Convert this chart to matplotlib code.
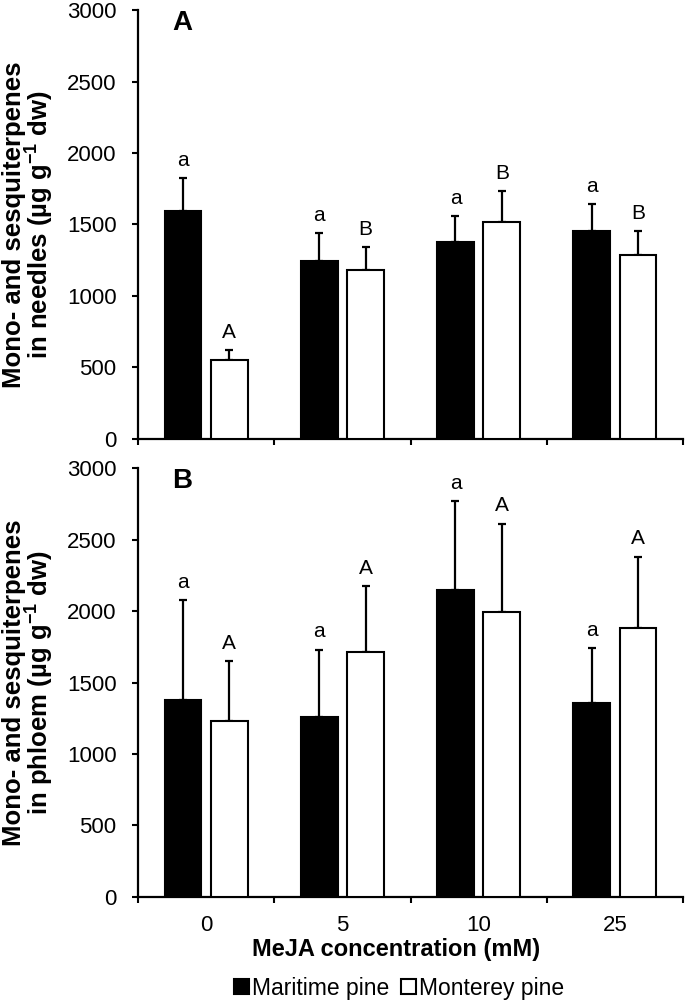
import matplotlib
matplotlib.use("Agg")
import matplotlib.pyplot as plt
import numpy as np
from matplotlib.patches import Patch

plt.rcParams['font.family'] = ['Liberation Sans', 'DejaVu Sans']
plt.rcParams['mathtext.fontset'] = 'custom'
plt.rcParams['mathtext.rm'] = 'Liberation Sans:bold'
plt.rcParams['mathtext.it'] = 'Liberation Sans:bold'
plt.rcParams['mathtext.bf'] = 'Liberation Sans:bold'

# ---- data ----
categories = ['0', '5', '10', '25']
series_names = ['Maritime pine', 'Monterey pine']

needles_maritime = [1595, 1243, 1380, 1455]
needles_maritime_se = [230, 195, 179, 187]
needles_monterey = [552, 1182, 1515, 1288]
needles_monterey_se = [70, 160, 218, 167]
needles_maritime_letters = ['a', 'a', 'a', 'a']
needles_monterey_letters = ['A', 'B', 'B', 'B']

phloem_maritime = [1375, 1260, 2150, 1355]
phloem_maritime_se = [700, 470, 620, 385]
phloem_monterey = [1230, 1715, 1995, 1880]
phloem_monterey_se = [420, 460, 615, 500]
phloem_maritime_letters = ['a', 'a', 'a', 'a']
phloem_monterey_letters = ['A', 'A', 'A', 'A']

yticks = [0, 500, 1000, 1500, 2000, 2500, 3000]

fig = plt.figure(figsize=(6.85, 10.02), dpi=100)
ax1 = fig.add_axes([0.2015, 0.5619, 0.7956, 0.4281])
ax2 = fig.add_axes([0.2015, 0.1048, 0.7956, 0.4281])

x = np.arange(len(categories))
w = 0.27
off = 0.17
FS = 16

def draw(ax, m, mse, w_, wse, mlet, wlet, panel, ylabel, show_xlabels):
    ax.bar(x - off, m, w, color='black', edgecolor='black', linewidth=1.5, zorder=3)
    ax.bar(x + off, w_, w, color='white', edgecolor='black', linewidth=1.5, zorder=3)
    for xs, vals, se, lets in [(x - off, m, mse, mlet), (x + off, w_, wse, wlet)]:
        ax.errorbar(xs, vals, yerr=[np.zeros(len(vals)), se], fmt='none',
                    ecolor='black', elinewidth=1.6, capsize=3, capthick=1.6, zorder=2)
        for xi, v, s, l in zip(xs, vals, se, lets):
            ax.annotate(l, (xi, v + s), xytext=(0, 6), textcoords='offset points',
                        ha='center', va='bottom', fontsize=15)
    ax.set_xlim(-0.5, 3.5)
    ax.set_ylim(0, 3000)
    ax.set_yticks(yticks)
    ax.set_yticklabels([str(t) for t in yticks], fontsize=FS)
    ax.tick_params(axis='y', direction='out', length=4.5, width=1.5, pad=11)
    ax.set_xticks(x)
    ax.set_xticks(np.arange(-0.5, 3.6, 1.0), minor=True)
    ax.tick_params(axis='x', which='major', length=0, pad=13)
    ax.tick_params(axis='x', which='minor', direction='out', length=4.5, width=1.5)
    if show_xlabels:
        ax.set_xticklabels(categories, fontsize=FS)
    else:
        ax.set_xticklabels([])
    for s in ['top', 'right']:
        ax.spines[s].set_visible(False)
    for s in ['left', 'bottom']:
        ax.spines[s].set_linewidth(1.6)
    ax.text(0.062, 1.0, panel, transform=ax.transAxes, ha='left', va='top',
            fontsize=20, fontweight='bold')
    pos = ax.get_position()
    fig.text(29 / 685, pos.y0 + pos.height / 2, ylabel, rotation=90, ha='center',
             va='center', multialignment='center', fontsize=18.5, fontweight='bold',
             linespacing=0.88)

draw(ax1, needles_maritime, needles_maritime_se, needles_monterey, needles_monterey_se,
     needles_maritime_letters, needles_monterey_letters, 'A',
     'Mono- and sesquiterpenes\nin needles (µg g$^{-1}$ dw)', False)
draw(ax2, phloem_maritime, phloem_maritime_se, phloem_monterey, phloem_monterey_se,
     phloem_maritime_letters, phloem_monterey_letters, 'B',
     'Mono- and sesquiterpenes\nin phloem (µg g$^{-1}$ dw)', True)

ax2.set_xlabel('MeJA concentration (mM)', fontsize=17, fontweight='bold')
ax2.xaxis.set_label_coords((396 - 138) / 545, -0.095)

handles = [Patch(facecolor='black', edgecolor='black', linewidth=1.5),
           Patch(facecolor='white', edgecolor='black', linewidth=1.5)]
fig.legend(handles, series_names, loc='center', bbox_to_anchor=(399 / 685, 1 - 988 / 1002),
           ncol=2, frameon=False, fontsize=16.5, handlelength=0.65, handleheight=0.65,
           handletextpad=0.15, columnspacing=0.5, borderaxespad=0)

fig.savefig('out.png', dpi=100)
